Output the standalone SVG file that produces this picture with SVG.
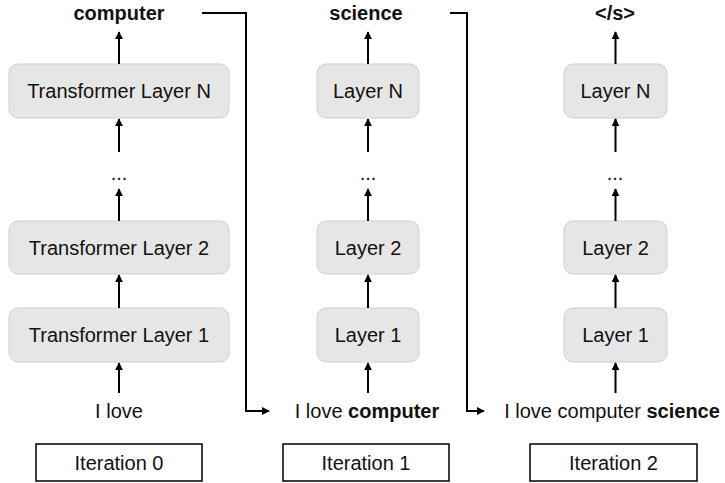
<svg xmlns="http://www.w3.org/2000/svg" width="725" height="483" viewBox="0 0 725 483">
<defs>
<marker id="ah" viewBox="0 0 10 10" refX="9" refY="5" markerWidth="4" markerHeight="4" orient="auto" markerUnits="strokeWidth">
<path d="M0,0 L10,5 L0,10 z" fill="#000"/>
</marker>
<style>
text{font-family:"Liberation Sans",Arial,sans-serif;font-size:20px;fill:#111;text-anchor:middle}
.b{font-weight:bold}
.layer rect{fill:#e6e6e6;stroke:#cfcfcf;stroke-width:1}
.iter rect{fill:#fff;stroke:#000;stroke-width:1.5}
.conn line,.conn path{stroke:#000;stroke-width:2;fill:none}
.arr{marker-end:url(#ah)}
</style>
</defs>
<rect width="725" height="483" fill="#fff"/>

<!-- Column 0 -->
<g id="out0"><text x="119" y="20" class="b">computer</text></g>
<g id="c0_layerN" class="layer"><rect x="9" y="64" width="220" height="54" rx="9"/><text x="119" y="98">Transformer Layer N</text></g>
<g id="c0_dots"><text x="119" y="180">...</text></g>
<g id="c0_layer2" class="layer"><rect x="9" y="221" width="220" height="53" rx="9"/><text x="119" y="254.5">Transformer Layer 2</text></g>
<g id="c0_layer1" class="layer"><rect x="9" y="308" width="220" height="54" rx="9"/><text x="119" y="342">Transformer Layer 1</text></g>
<g id="in0"><text x="119" y="418">I love</text></g>
<g id="iter0" class="iter"><rect x="36" y="444" width="166" height="37"/><text x="119" y="470">Iteration 0</text></g>

<!-- Column 1 -->
<g id="out1"><text x="366" y="20" class="b">science</text></g>
<g id="c1_layerN" class="layer"><rect x="317" y="64" width="102" height="54" rx="9"/><text x="368" y="98">Layer N</text></g>
<g id="c1_dots"><text x="368" y="180">...</text></g>
<g id="c1_layer2" class="layer"><rect x="317" y="221" width="102" height="53" rx="9"/><text x="368" y="254.5">Layer 2</text></g>
<g id="c1_layer1" class="layer"><rect x="317" y="308" width="102" height="54" rx="9"/><text x="368" y="342">Layer 1</text></g>
<g id="in1"><text x="367" y="418">I love <tspan class="b">computer</tspan></text></g>
<g id="iter1" class="iter"><rect x="283" y="444" width="166" height="37"/><text x="366" y="470">Iteration 1</text></g>

<!-- Column 2 -->
<g id="out2"><text x="615" y="20" class="b">&lt;/s&gt;</text></g>
<g id="c2_layerN" class="layer"><rect x="564" y="64" width="103" height="54" rx="9"/><text x="615.5" y="98">Layer N</text></g>
<g id="c2_dots"><text x="615" y="180">...</text></g>
<g id="c2_layer2" class="layer"><rect x="564" y="221" width="103" height="53" rx="9"/><text x="615.5" y="254.5">Layer 2</text></g>
<g id="c2_layer1" class="layer"><rect x="564" y="308" width="103" height="54" rx="9"/><text x="615.5" y="342">Layer 1</text></g>
<g id="in2"><text x="612" y="418">I love computer <tspan class="b">science</tspan></text></g>
<g id="iter2" class="iter"><rect x="530" y="444" width="167" height="37"/><text x="613.5" y="470">Iteration 2</text></g>

<!-- Connectors -->
<g id="connectors" class="conn">
<line class="arr" x1="119" y1="64" x2="119" y2="32"/>
<line class="arr" x1="119" y1="152" x2="119" y2="119"/>
<line class="arr" x1="119" y1="221" x2="119" y2="189"/>
<line class="arr" x1="119" y1="308" x2="119" y2="275"/>
<line class="arr" x1="119" y1="393" x2="119" y2="363"/>

<line class="arr" x1="368" y1="64" x2="368" y2="32"/>
<line class="arr" x1="368" y1="152" x2="368" y2="119"/>
<line class="arr" x1="368" y1="221" x2="368" y2="189"/>
<line class="arr" x1="368" y1="308" x2="368" y2="275"/>
<line class="arr" x1="368" y1="393" x2="368" y2="363"/>

<line class="arr" x1="615.5" y1="64" x2="615.5" y2="32"/>
<line class="arr" x1="615.5" y1="152" x2="615.5" y2="119"/>
<line class="arr" x1="615.5" y1="221" x2="615.5" y2="189"/>
<line class="arr" x1="615.5" y1="308" x2="615.5" y2="275"/>
<line class="arr" x1="615.5" y1="393" x2="615.5" y2="363"/>

<path class="arr" d="M202,13 H246 V411 H269"/>
<path class="arr" d="M450,13 H467 V411 H484"/>
</g>
</svg>
